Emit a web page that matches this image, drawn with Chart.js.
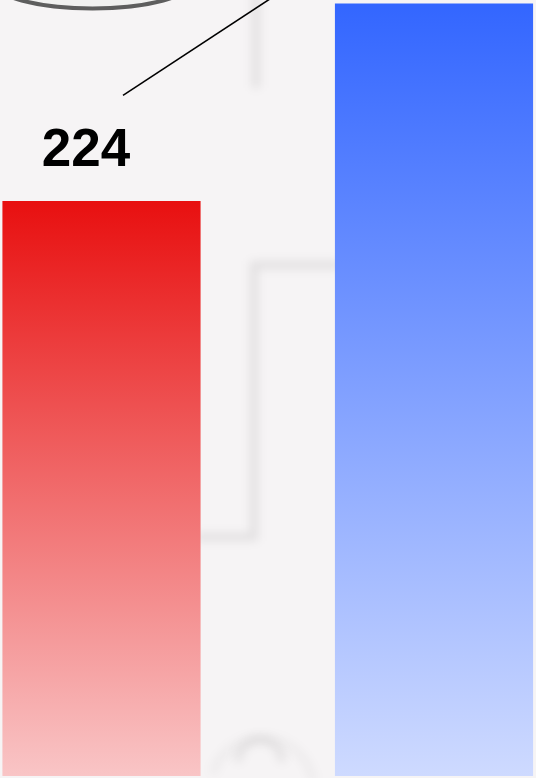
<!DOCTYPE html>
<html>
<head>
<meta charset="utf-8">
<script src="https://cdn.jsdelivr.net/npm/chart.js@4/dist/chart.umd.min.js"></script>
<style>
  html, body { margin: 0; padding: 0; background: #f6f4f5; }
  #wrap { width: 536px; height: 778px; }
</style>
</head>
<body>
<div id="wrap"><canvas id="barChart"></canvas></div>
<script>
  // ────────── Data ──────────
  const categories = ['A', 'B'];
  const values = [224, 301];
  const topColors = ['rgb(232,16,16)', 'rgb(51,102,255)'];
  const bottomColors = ['rgb(249,197,198)', 'rgb(206,218,255)'];

  // ────────── Background embossed shapes ──────────
  const backdrop = {
    id: 'backdrop',
    beforeDraw(chart) {
      const ctx = chart.ctx;
      ctx.save();
      ctx.fillStyle = '#f6f4f5';
      ctx.fillRect(0, 0, chart.width, chart.height);
      ctx.filter = 'blur(5px)';
      ctx.strokeStyle = 'rgba(0,0,0,0.08)';
      ctx.lineWidth = 8;
      ctx.beginPath();
      ctx.moveTo(256, -10);
      ctx.lineTo(256, 88);
      ctx.stroke();
      ctx.beginPath();
      ctx.moveTo(340, 265);
      ctx.lineTo(254, 265);
      ctx.lineTo(254, 537);
      ctx.lineTo(195, 537);
      ctx.stroke();
      ctx.strokeStyle = 'rgba(0,0,0,0.07)';
      ctx.beginPath();
      ctx.arc(260, 762, 22, Math.PI, 0);
      ctx.stroke();
      ctx.strokeStyle = 'rgba(0,0,0,0.035)';
      ctx.beginPath();
      ctx.arc(262, 790, 52, Math.PI * 1.1, Math.PI * 1.95);
      ctx.stroke();
      ctx.restore();
    }
  };

  // ────────── Value label + callout ──────────
  const callout = {
    id: 'callout',
    afterDatasetsDraw(chart) {
      const ctx = chart.ctx;
      const bars = chart.getDatasetMeta(0).data;
      ctx.save();
      bars.forEach((bar, i) => {
        ctx.font = 'bold 53px "Liberation Sans", Arial, sans-serif';
        ctx.fillStyle = '#000';
        ctx.textAlign = 'center';
        ctx.textBaseline = 'alphabetic';
        ctx.fillText(String(values[i]), bar.x - 15.5, bar.y - 35);
      });
      // leader line and ellipse for the first bar
      const b = bars[0];
      ctx.strokeStyle = '#000';
      ctx.lineWidth = 1.6;
      ctx.beginPath();
      ctx.moveTo(b.x + 21.5, b.y - 106);
      ctx.lineTo(b.x + 21.5 + 160, b.y - 106 - 105);
      ctx.stroke();
      ctx.beginPath();
      ctx.ellipse(b.x - 9, b.y - 220, 100, 27, 0, 0, Math.PI * 2);
      ctx.fillStyle = '#f1f1f0';
      ctx.fill();
      ctx.strokeStyle = '#5e5e5e';
      ctx.lineWidth = 4;
      ctx.stroke();
      ctx.restore();
    }
  };

  function barGradient(context) {
    const chart = context.chart;
    if (!chart.chartArea) return topColors[context.dataIndex];
    const y = chart.scales.y;
    const top = y.getPixelForValue(values[context.dataIndex]);
    const base = y.getPixelForValue(0);
    const g = chart.ctx.createLinearGradient(0, top, 0, base);
    g.addColorStop(0, topColors[context.dataIndex]);
    g.addColorStop(1, bottomColors[context.dataIndex]);
    return g;
  }

  const ctx = document.getElementById('barChart').getContext('2d');
  new Chart(ctx, {
    type: 'bar',
    data: {
      datasets: [{
        label: 'values',
        data: categories.map((c, i) => ({ x: i, y: values[i] })),
        backgroundColor: barGradient,
        borderWidth: 0,
        barThickness: 197.5
      }]
    },
    options: {
      responsive: true,
      maintainAspectRatio: false,
      animation: false,
      layout: { padding: { left: 0, right: 0, top: 0, bottom: 2 } },
      scales: {
        x: { type: 'linear', display: false, min: -0.30526, max: 1.30677, offset: false },
        y: { display: false, min: 0, max: 302.5 }
      },
      plugins: { legend: { display: false }, tooltip: { enabled: false } }
    },
    plugins: [backdrop, callout]
  });
</script>
</body>
</html>
